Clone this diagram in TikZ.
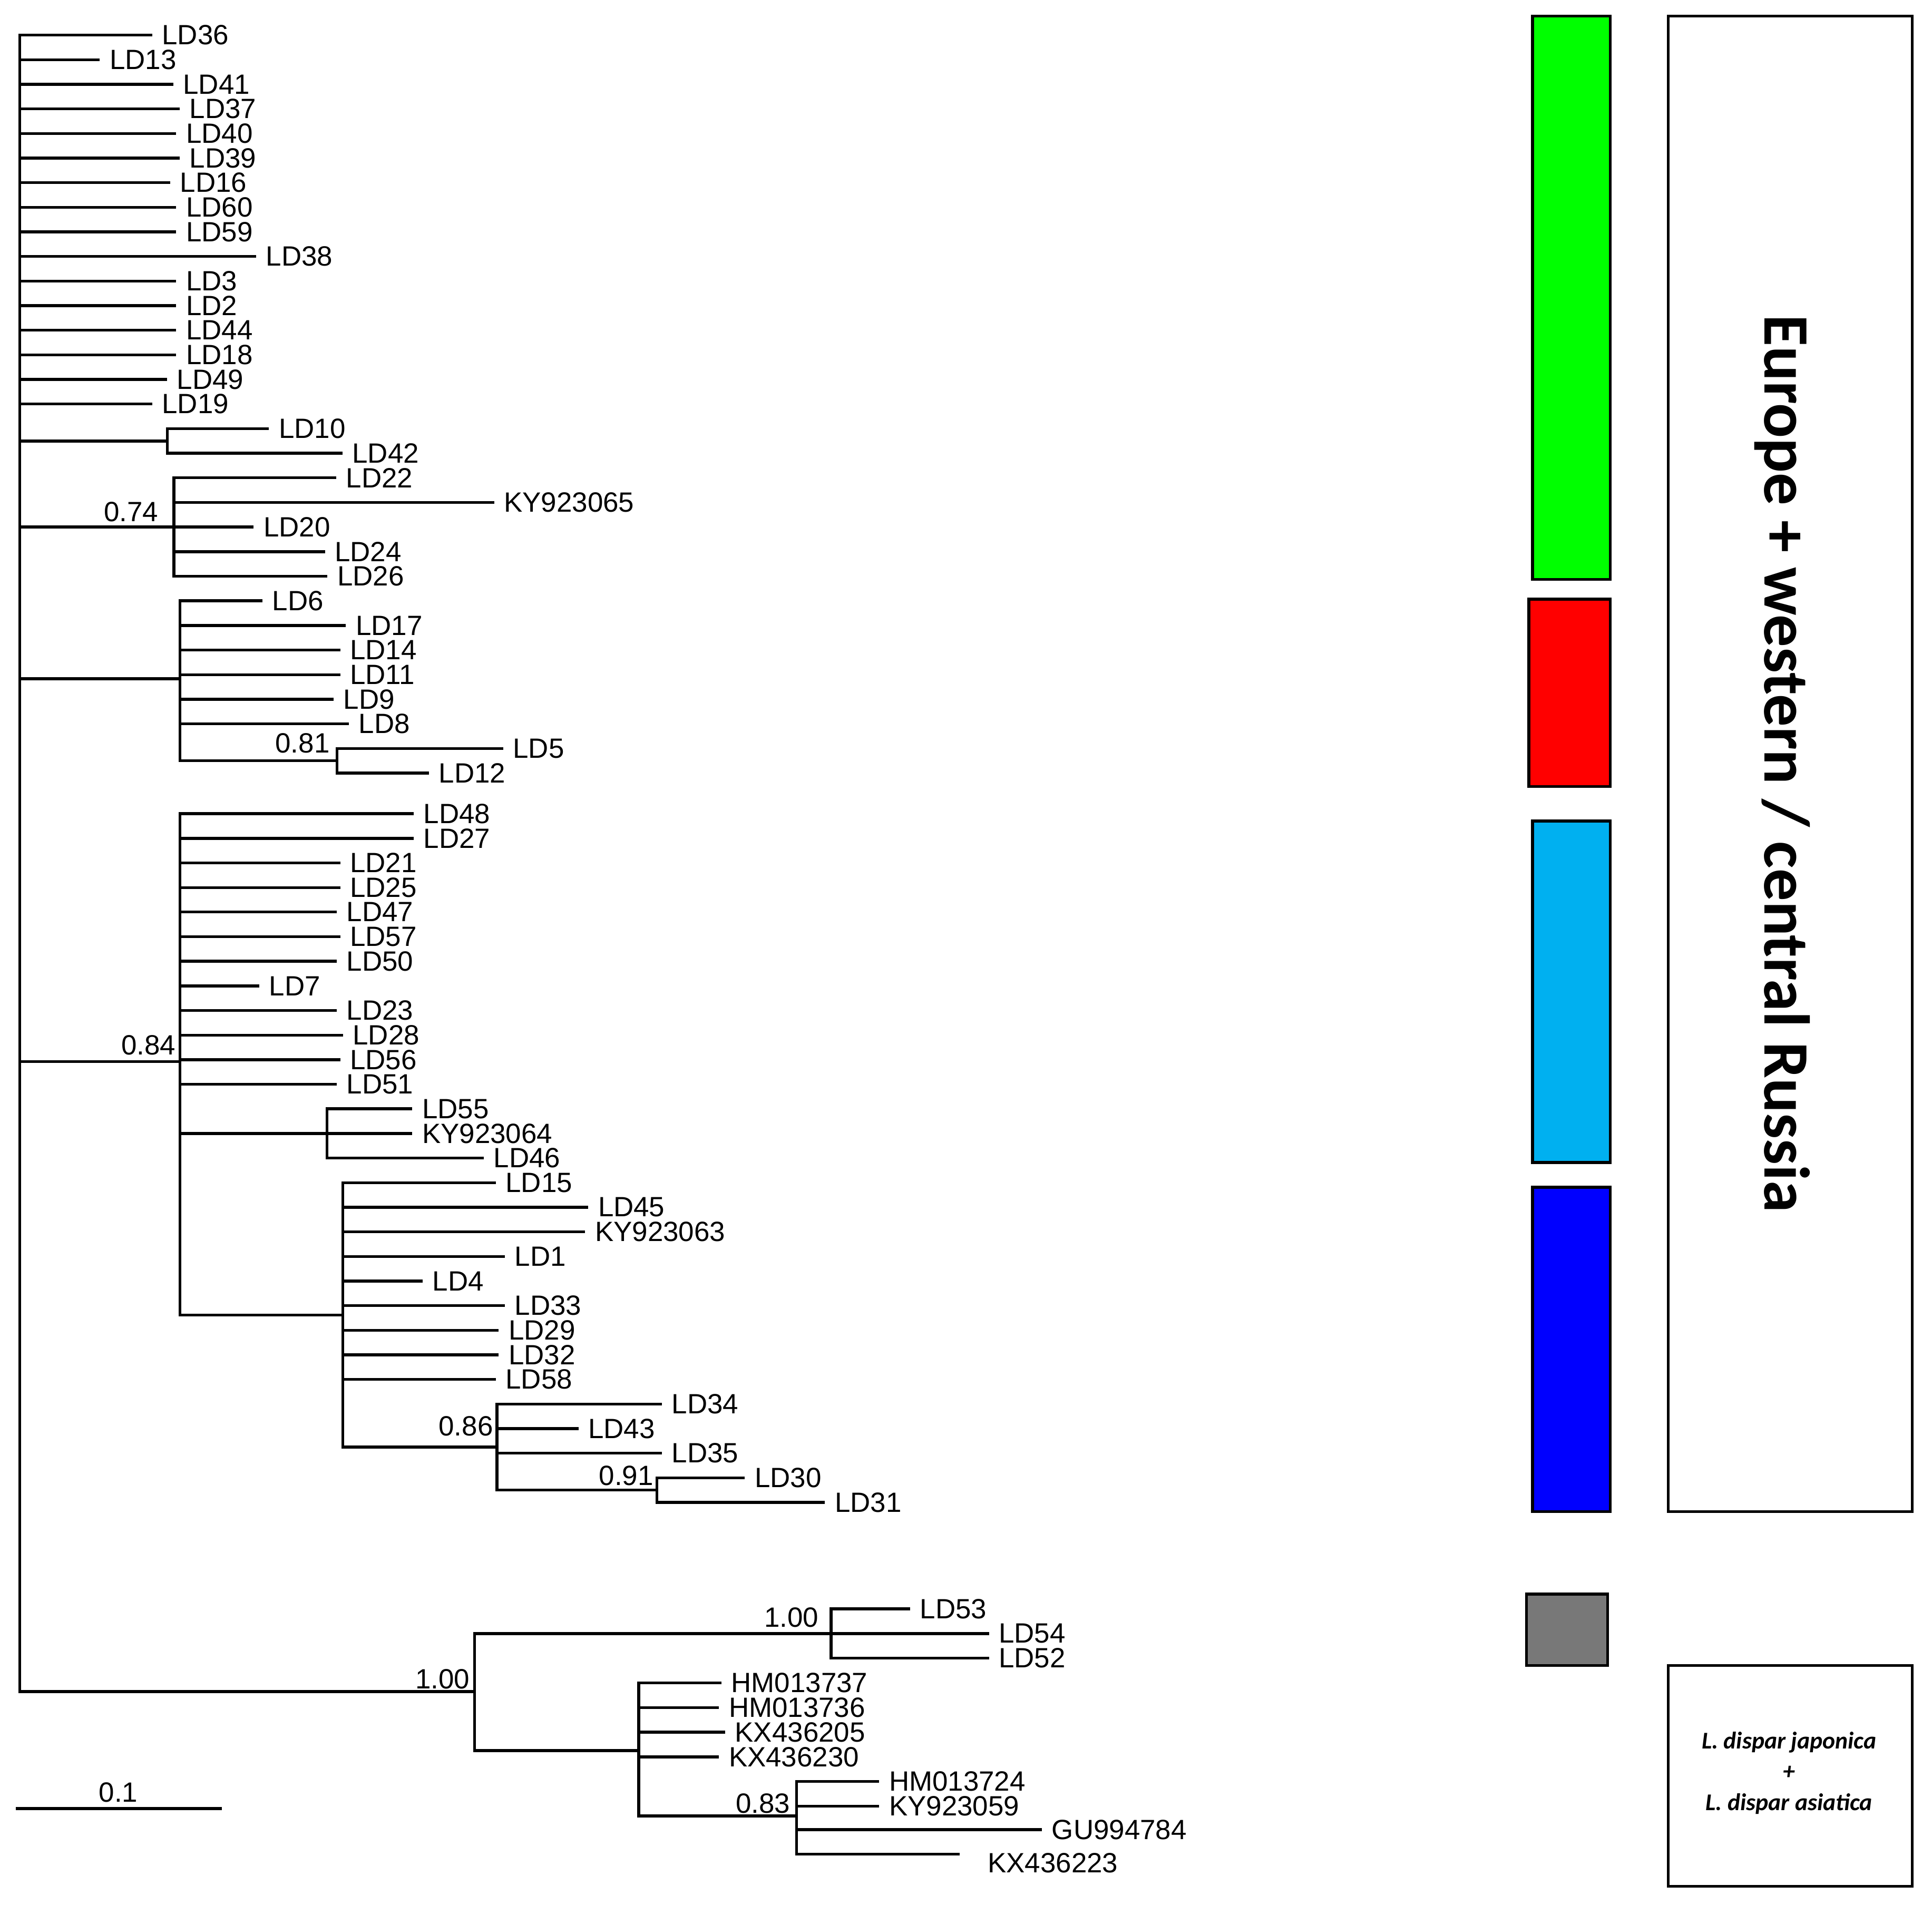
\documentclass[tikz,border=0pt]{standalone}
\usepackage{fontspec}
\setmainfont{Liberation Sans}
\newfontfamily\carl{Carlito}
\newcommand\tip[4]{\coordinate (#1) at (#2,#3); \node[lab] (l#1) at ([xshift=8pt]#1) {#4};}
\newcommand\br[2]{\draw (#1 |- #2) -- (#2);}
\begin{document}
\begin{tikzpicture}[x=1pt,y=-1pt,line width=2.3pt,line cap=rect,
  lab/.style={anchor=west,inner sep=0pt,font=\fontsize{22.6}{24}\selectfont},
  sup/.style={anchor=south east,inner sep=0pt,font=\fontsize{22.6}{24}\selectfont},
  legbox/.style={draw=black,line width=2.3pt,line cap=butt}]
\useasboundingbox (0,0) rectangle (1567,1545.2);
% internal nodes
\coordinate (root) at (16,700);
\coordinate (n1042) at (135.8,357.7);
\coordinate (n74) at (141.1,427.5);
\coordinate (n6) at (146,550.5);
\coordinate (n81) at (273.4,617);
\coordinate (n84) at (146,861);
\coordinate (n55) at (265.2,919.4);
\coordinate (n15) at (278,1066.6);
\coordinate (n86) at (403,1173.8);
\coordinate (n91) at (532.8,1208.6);
\coordinate (nB) at (385,1372);
\coordinate (nA) at (674,1325);
\coordinate (nL) at (518,1420);
\coordinate (n83) at (646,1473);
% group 1 tips
\tip{tLD36}{122.3}{28.5}{LD36}
\tip{tLD13}{79.8}{48.45}{LD13}
\tip{tLD41}{139.4}{68.4}{LD41}
\tip{tLD37}{144.7}{88.35}{LD37}
\tip{tLD40}{141.8}{108.3}{LD40}
\tip{tLD39}{144.7}{128.25}{LD39}
\tip{tLD16}{136.9}{148.2}{LD16}
\tip{tLD60}{141.8}{168.15}{LD60}
\tip{tLD59}{141.8}{188.1}{LD59}
\tip{tLD38}{206.7}{208.05}{LD38}
\tip{tLD3}{141.8}{228}{LD3}
\tip{tLD2}{141.8}{247.95}{LD2}
\tip{tLD44}{141.8}{267.9}{LD44}
\tip{tLD18}{141.8}{287.85}{LD18}
\tip{tLD49}{134.4}{307.8}{LD49}
\tip{tLD19}{122.3}{327.75}{LD19}
\tip{tLD10}{217}{347.7}{LD10}
\tip{tLD42}{276.6}{367.65}{LD42}
\tip{tLD22}{271.6}{387.6}{LD22}
\tip{tKY65}{399.6}{407.55}{KY923065}
\tip{tLD20}{204.6}{427.5}{LD20}
\tip{tLD24}{262.4}{447.45}{LD24}
\tip{tLD26}{264.5}{467.4}{LD26}
\tip{tLD6}{211.7}{487.35}{LD6}
\tip{tLD17}{279.4}{507.3}{LD17}
\tip{tLD14}{274.8}{527.25}{LD14}
\tip{tLD11}{274.8}{547.2}{LD11}
\tip{tLD9}{269.5}{567.15}{LD9}
\tip{tLD8}{281.9}{587.1}{LD8}
\tip{tLD5}{407}{607.05}{LD5}
\tip{tLD12}{346.8}{627}{LD12}
% group 2 tips
\tip{tLD48}{334.4}{660}{LD48}
\tip{tLD27}{334.4}{680}{LD27}
\tip{tLD21}{274.8}{699.9}{LD21}
\tip{tLD25}{274.8}{719.9}{LD25}
\tip{tLD47}{272}{739.8}{LD47}
\tip{tLD57}{274.8}{759.8}{LD57}
\tip{tLD50}{272}{779.7}{LD50}
\tip{tLD7}{209.2}{799.7}{LD7}
\tip{tLD23}{272}{819.6}{LD23}
\tip{tLD28}{277}{839.6}{LD28}
\tip{tLD56}{274.8}{859.5}{LD56}
\tip{tLD51}{272}{879.5}{LD51}
\tip{tLD55}{333.3}{899.4}{LD55}
\tip{tKY64}{333.3}{919.4}{KY923064}
\tip{tLD46}{391.2}{939.3}{LD46}
\tip{tLD15}{401}{959.3}{LD15}
\tip{tLD45}{476}{979.2}{LD45}
\tip{tKY63}{473.5}{999.2}{KY923063}
\tip{tLD1}{408.3}{1019.1}{LD1}
\tip{tLD4}{341.7}{1039.1}{LD4}
\tip{tLD33}{408.3}{1059}{LD33}
\tip{tLD29}{403.4}{1079}{LD29}
\tip{tLD32}{403.4}{1098.9}{LD32}
\tip{tLD58}{401}{1118.9}{LD58}
\tip{tLD34}{535.8}{1138.8}{LD34}
\tip{tLD43}{468}{1158.8}{LD43}
\tip{tLD35}{535.8}{1178.7}{LD35}
\tip{tLD30}{603}{1198.7}{LD30}
\tip{tLD31}{668}{1218.6}{LD31}
% group 3 tips
\tip{tLD53}{737}{1305}{LD53}
\tip{tLD54}{801}{1325}{LD54}
\tip{tLD52}{801}{1345}{LD52}
\tip{tHM37}{584}{1365}{HM013737}
\tip{tHM36}{582}{1385}{HM013736}
\tip{tKX05}{587}{1405}{KX436205}
\tip{tKX30}{582}{1425}{KX436230}
\tip{tHM24}{712}{1445}{HM013724}
\tip{tKY59}{712}{1465}{KY923059}
\tip{tGU84}{844}{1484}{GU994784}
\coordinate (tKX23) at (777,1504);
\node[lab] (ltKX23) at (800,1511) {KX436223};
% root
\draw (root |- tLD36) -- (root |- nB);
\foreach \t in {tLD36,tLD13,tLD41,tLD37,tLD40,tLD39,tLD16,tLD60,tLD59,tLD38,tLD3,tLD2,tLD44,tLD18,tLD49,tLD19,n1042,n74,n6,n84,nB}
  {\br{root}{\t}}
% LD10/LD42
\draw (n1042 |- tLD10) -- (n1042 |- tLD42);
\br{n1042}{tLD10} \br{n1042}{tLD42}
% 0.74
\draw (n74 |- tLD22) -- (n74 |- tLD26);
\foreach \t in {tLD22,tKY65,tLD20,tLD24,tLD26} {\br{n74}{\t}}
% LD6 clade
\draw (n6 |- tLD6) -- (n6 |- n81);
\foreach \t in {tLD6,tLD17,tLD14,tLD11,tLD9,tLD8,n81} {\br{n6}{\t}}
\draw (n81 |- tLD5) -- (n81 |- tLD12);
\br{n81}{tLD5} \br{n81}{tLD12}
% 0.84
\draw (n84 |- tLD48) -- (n84 |- n15);
\foreach \t in {tLD48,tLD27,tLD21,tLD25,tLD47,tLD57,tLD50,tLD7,tLD23,tLD28,tLD56,tLD51,n55,n15} {\br{n84}{\t}}
\draw (n55 |- tLD55) -- (n55 |- tLD46);
\foreach \t in {tLD55,tKY64,tLD46} {\br{n55}{\t}}
\draw (n15 |- tLD15) -- (n15 |- n86);
\foreach \t in {tLD15,tLD45,tKY63,tLD1,tLD4,tLD33,tLD29,tLD32,tLD58,n86} {\br{n15}{\t}}
\draw (n86 |- tLD34) -- (n86 |- n91);
\foreach \t in {tLD34,tLD43,tLD35,n91} {\br{n86}{\t}}
\draw (n91 |- tLD30) -- (n91 |- tLD31);
\br{n91}{tLD30} \br{n91}{tLD31}
% bottom clade
\draw (nB |- nA) -- (nB |- nL);
\br{nB}{nA} \br{nB}{nL}
\draw (nA |- tLD53) -- (nA |- tLD52);
\foreach \t in {tLD53,tLD54,tLD52} {\br{nA}{\t}}
\draw (nL |- tHM37) -- (nL |- n83);
\foreach \t in {tHM37,tHM36,tKX05,tKX30,n83} {\br{nL}{\t}}
\draw (n83 |- tHM24) -- (n83 |- tKX23);
\foreach \t in {tHM24,tKY59,tGU84,tKX23} {\br{n83}{\t}}
% support values
\node[sup] (s74) at (129.5,424.5) {0.74};
\node[sup] (s81) at (268.5,612) {0.81};
\node[sup] (s84) at (143.6,857) {0.84};
\node[sup] (s86) at (401,1166) {0.86};
\node[sup] (s91) at (531,1206) {0.91};
\node[sup] (s100a) at (665,1321) {1.00};
\node[sup] (s100b) at (382,1371) {1.00};
\node[sup] (s83) at (642,1472) {0.83};
% scale bar
\coordinate (sb1) at (13,1467);
\coordinate (sb2) at (180,1467);
\draw[line cap=butt] (sb1) -- (sb2);
\node[sup,anchor=south] (sbl) at (96,1463) {0.1};
% colour bars
\draw[legbox,fill={rgb,255:red,0;green,255;blue,0}] (1243,13) rectangle (1306,470);
\draw[legbox,fill={rgb,255:red,255;green,0;blue,0}] (1240,486) rectangle (1306,638);
\draw[legbox,fill={rgb,255:red,0;green,176;blue,240}] (1243,666) rectangle (1306,943);
\draw[legbox,fill={rgb,255:red,0;green,0;blue,255}] (1243,963) rectangle (1306,1226);
\draw[legbox,fill={rgb,255:red,120;green,120;blue,120}] (1238,1293) rectangle (1304,1351);
% legend boxes
\draw[legbox] (1353,13) rectangle (1551,1226);
\node[rotate=-90,inner sep=0pt,font=\carl\bfseries\fontsize{52.5}{60}\selectfont] (eu) at (1445.5,619.5) {Europe + western / central Russia};
\draw[legbox] (1353,1351) rectangle (1551,1530);
\node[align=center,inner sep=0pt,font=\carl\bfseries\itshape\fontsize{19.5}{25}\selectfont] (as) at (1451,1438) {L. dispar japonica\\+\\L. dispar asiatica};
\end{tikzpicture}
\end{document}
